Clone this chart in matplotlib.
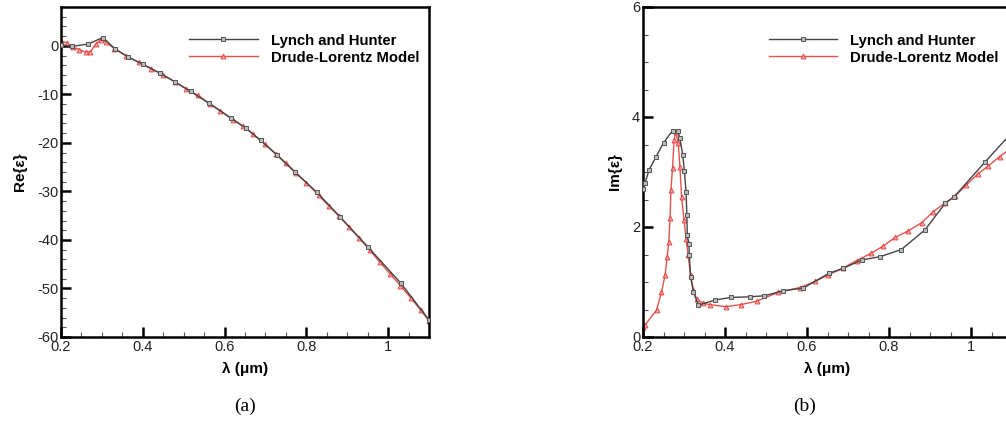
import matplotlib
matplotlib.use("Agg")
import matplotlib.pyplot as plt
from matplotlib.ticker import MultipleLocator

plt.rcParams['font.family'] = ['Liberation Sans', 'DejaVu Sans']
plt.rcParams['axes.unicode_minus'] = False

# (a) real part - Lynch and Hunter (measured)
lam_re_lh = [0.200, 0.228, 0.266, 0.302, 0.332, 0.364, 0.400, 0.441, 0.478, 0.517,
             0.561, 0.616, 0.653, 0.688, 0.728, 0.773, 0.826, 0.882, 0.950, 1.031, 1.100]
re_lh = [0.2, -0.1, 0.35, 1.7, -0.6, -2.3, -3.8, -5.6, -7.4, -9.4,
         -11.8, -14.9, -17.0, -19.5, -22.5, -26.1, -30.2, -35.2, -41.4, -48.9, -56.5]

# (a) real part - Drude-Lorentz model
lam_re_dl = [0.200, 0.215, 0.230, 0.245, 0.260, 0.272, 0.285, 0.297, 0.310, 0.330,
             0.360, 0.390, 0.420, 0.450, 0.480, 0.505, 0.535, 0.565, 0.590, 0.620,
             0.645, 0.670, 0.700, 0.725, 0.750, 0.775, 0.800, 0.830, 0.855, 0.880,
             0.905, 0.930, 0.955, 0.980, 1.005, 1.030, 1.055, 1.080, 1.100]
re_dl = [1.0, 0.6, -0.3, -0.8, -1.3, -1.2, 0.3, 1.3, 0.8, -0.6,
         -2.1, -3.4, -4.7, -6.0, -7.5, -8.8, -10.2, -12.0, -13.4, -15.2,
         -16.6, -18.2, -20.3, -22.2, -24.1, -26.2, -28.2, -30.8, -33.0, -35.1,
         -37.4, -39.7, -42.1, -44.6, -47.0, -49.4, -51.9, -54.5, -56.7]

# (b) imaginary part - Lynch and Hunter
lam_im_lh = [0.200, 0.205, 0.215, 0.232, 0.250, 0.272, 0.285, 0.290, 0.297, 0.301,
             0.305, 0.307, 0.308, 0.312, 0.313, 0.316, 0.323, 0.335, 0.375, 0.414,
             0.460, 0.496, 0.541, 0.591, 0.654, 0.689, 0.733, 0.778, 0.830, 0.888,
             0.937, 0.959, 1.034, 1.100]
im_lh = [2.7, 2.8, 3.04, 3.28, 3.53, 3.75, 3.75, 3.61, 3.31, 3.02,
         2.64, 2.22, 1.85, 1.70, 1.49, 1.10, 0.82, 0.58, 0.67, 0.72,
         0.73, 0.75, 0.84, 0.89, 1.16, 1.25, 1.40, 1.46, 1.59, 1.95,
         2.43, 2.55, 3.18, 3.72]

# (b) imaginary part - Drude-Lorentz model
lam_im_dl = [0.200, 0.205, 0.233, 0.245, 0.254, 0.259, 0.263, 0.266, 0.268, 0.272,
             0.276, 0.280, 0.286, 0.290, 0.294, 0.300, 0.305, 0.310, 0.316, 0.323,
             0.331, 0.347, 0.363, 0.402, 0.439, 0.477, 0.529, 0.583, 0.620, 0.652,
             0.687, 0.721, 0.756, 0.785, 0.815, 0.847, 0.880, 0.908, 0.937, 0.961,
             0.988, 1.016, 1.042, 1.070, 1.100]
im_dl = [0.18, 0.22, 0.49, 0.81, 1.13, 1.46, 1.73, 2.16, 2.67, 3.07,
         3.59, 3.73, 3.52, 3.10, 2.55, 2.13, 1.79, 1.49, 1.13, 0.85,
         0.69, 0.61, 0.59, 0.55, 0.59, 0.65, 0.81, 0.90, 1.01, 1.13,
         1.25, 1.39, 1.52, 1.65, 1.81, 1.93, 2.08, 2.28, 2.44, 2.56,
         2.76, 2.96, 3.11, 3.28, 3.45]

xticks = [0.2, 0.4, 0.6, 0.8, 1.0]
xticklabels = ['0.2', '0.4', '0.6', '0.8', '1']

BLACK = '#444444'
RED = '#e8322c'

fig = plt.figure(figsize=(10.06, 4.22), dpi=100)
ax1 = fig.add_axes([61 / 1006, 85 / 422, 368 / 1006, 330 / 422])
ax2 = fig.add_axes([643 / 1006, 85 / 422, 369 / 1006, 330 / 422])


def style(ax, ylabel):
    ax.set_xlim(0.2, 1.1)
    ax.set_xticks(xticks)
    ax.set_xticklabels(xticklabels)
    ax.xaxis.set_minor_locator(MultipleLocator(0.05))
    ax.tick_params(which='major', direction='in', length=7, width=1.8, labelsize=10.5,
                   colors='black', labelcolor='#222222', pad=2)
    ax.tick_params(which='minor', direction='in', length=3.5, width=0.8, colors='#555555')
    for s in ax.spines.values():
        s.set_linewidth(1.8)
    ax.set_xlabel('λ (μm)', fontsize=11, fontweight='bold', labelpad=6)
    ax.set_ylabel(ylabel, fontsize=11, fontweight='bold', labelpad=7)
    leg = ax.legend(loc='upper right', bbox_to_anchor=(1.0, 0.96), frameon=False,
                    handlelength=4.6, handletextpad=0.9, labelspacing=0.2,
                    prop={'weight': 'bold', 'size': 10.7})
    return leg


ax1.plot(lam_re_lh, re_lh, color=BLACK, lw=1.0, marker='s', ms=3.5,
         mfc='#bbbbbb', mec='#555555', mew=0.7,
         label='Lynch and Hunter', zorder=3)
ax1.plot(lam_re_dl, re_dl, color=RED, lw=1.0, marker='^', ms=3.5,
         mfc='#f4a0a0', mec=RED, mew=0.7, label='Drude-Lorentz Model', alpha=0.85, zorder=2)
ax1.set_ylim(-60, 8)
ax1.set_yticks([0, -10, -20, -30, -40, -50, -60])
ax1.yaxis.set_minor_locator(MultipleLocator(2))
leg1 = style(ax1, 'Re{ε}')
leg1.set_bbox_to_anchor((1.01, 0.96))

ax2.plot(lam_im_lh, im_lh, color=BLACK, lw=1.0, marker='s', ms=3.5,
         mfc='#bbbbbb', mec='#555555', mew=0.7, label='Lynch and Hunter', zorder=3)
ax2.plot(lam_im_dl, im_dl, color=RED, lw=1.0, marker='^', ms=3.5,
         mfc='#f4a0a0', mec=RED, mew=0.7, label='Drude-Lorentz Model', alpha=0.85, zorder=2)
ax2.set_ylim(0, 6)
ax2.set_yticks([0, 2, 4, 6])
ax2.yaxis.set_minor_locator(MultipleLocator(0.5))
style(ax2, 'Im{ε}')

fig.text(245 / 1006, 1 - 406 / 422, '(a)', ha='center', va='center',
         family='Liberation Serif', fontsize=14)
fig.text(805 / 1006, 1 - 406 / 422, '(b)', ha='center', va='center',
         family='Liberation Serif', fontsize=14)

fig.savefig('out.png', dpi=100)
